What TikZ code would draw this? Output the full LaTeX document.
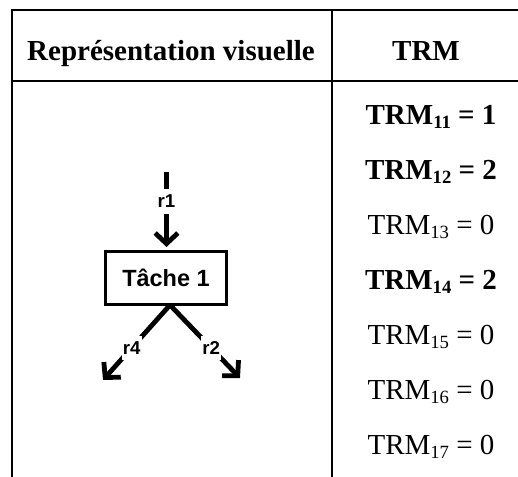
\documentclass[tikz,border=0pt]{standalone}
\usepackage{fontspec}
\setmainfont{Liberation Serif}
\newfontfamily\arialfont{Liberation Sans}
\usetikzlibrary{arrows.meta}
\newcommand\trmsub[1]{\raisebox{-0.13em}{\fontsize{14pt}{14pt}\selectfont #1}}
\begin{document}
\begin{tikzpicture}[x=0.75pt,y=-0.75pt,
  gridline/.style={line width=1.5pt},
  hdr/.style={font=\fontsize{21.75pt}{24pt}\selectfont\bfseries, anchor=base, inner sep=0pt},
  rowb/.style={font=\fontsize{21.75pt}{24pt}\selectfont\bfseries, anchor=base, inner sep=0pt},
  rown/.style={font=\fontsize{21.75pt}{24pt}\selectfont, anchor=base, inner sep=0pt},
  taskbox/.style={draw, line width=2.25pt, minimum width=90.75pt, minimum height=39.5pt,
    inner sep=0pt, font=\arialfont\bfseries\fontsize{17.6pt}{20pt}\selectfont},
  flow/.style={line width=3.6pt, -{Straight Barb[length=8pt, width=17pt, sharp]}},
  rlbl/.style={fill=white, inner xsep=0.8pt, inner ysep=4.3pt, text=black,
    font=\arialfont\bfseries\fontsize{14pt}{16pt}\selectfont}
]
\useasboundingbox (0,0) rectangle (518,477);
% table grid
\coordinate (tl) at (12,10);
\coordinate (tr) at (518,10);
\coordinate (hl) at (12,81);
\coordinate (hr) at (518,81);
\coordinate (bl) at (12,477);
\coordinate (mt) at (332,10);
\coordinate (mb) at (332,477);
\draw[gridline] (bl) -- (tl) -- (tr);
\draw[gridline] (hl) -- (hr);
\draw[gridline] (mt) -- (mb);
% headers
\node[hdr] (h1) at (171,61) {Représentation visuelle};
\node[hdr] (h2) at (426,61) {TRM};
% TRM values
\node[rowb] (t1) at (431,125) {TRM\trmsub{11} = 1};
\node[rowb] (t2) at (431,180) {TRM\trmsub{12} = 2};
\node[rown] (t3) at (431,235) {TRM\trmsub{13} = 0};
\node[rowb] (t4) at (431,290) {TRM\trmsub{14} = 2};
\node[rown] (t5) at (431,345) {TRM\trmsub{15} = 0};
\node[rown] (t6) at (431,400) {TRM\trmsub{16} = 0};
\node[rown] (t7) at (431,455) {TRM\trmsub{17} = 0};
% task diagram
\node[taskbox] (task) at (166,278) {Tâche 1};
\coordinate (r1top) at (166.5,172.5);
\coordinate (r1tip) at (166.5,247);
\coordinate (fork) at (170,305);
\coordinate (tip4) at (103,380);
\coordinate (tip2) at (240,378);
\draw[flow] (r1top) -- node[rlbl, pos=0.39] (l1) {r1} (r1tip);
\draw[flow] (fork) -- node[rlbl, pos=0.573] (l4) {r4} (tip4);
\draw[flow] (fork) -- node[rlbl, pos=0.59] (l2) {r2} (tip2);
\end{tikzpicture}
\end{document}
